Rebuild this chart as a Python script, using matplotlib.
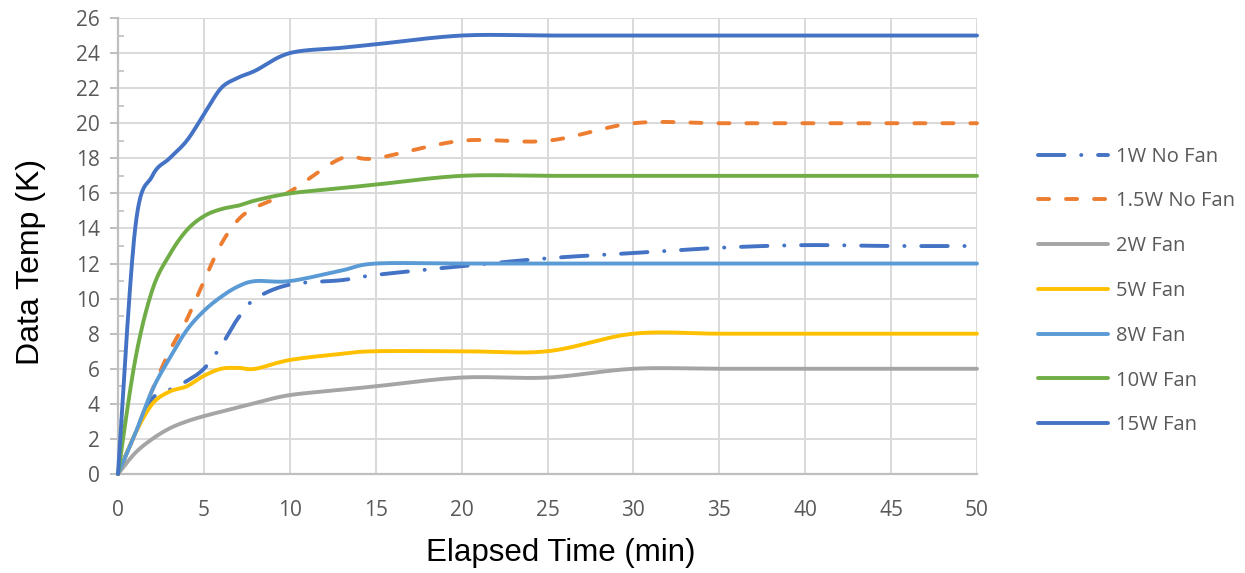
import matplotlib
matplotlib.use("Agg")
import matplotlib.pyplot as plt
import numpy as np
from matplotlib import ticker

# Sample times (min) shared by all series
TIMES = [0, 1, 2, 3, 4, 5, 6, 7, 8, 10, 13, 15, 20, 25, 30, 35, 40, 45, 50]

# Data temperatures (K)
W1_NO_FAN   = [0, 2.3, 4.3, 4.8, 5.3, 6.0, 7.3, 8.9, 10.0, 10.8, 11.05, 11.35, 11.85, 12.3, 12.6, 12.9, 13.05, 13.0, 13.0]
W1_5_NO_FAN = [0, 2.3, 4.8, 7.0, 8.8, 11.0, 13.1, 14.5, 15.2, 16.1, 18.0, 18.0, 19.0, 19.0, 20.0, 20.0, 20.0, 20.0, 20.0]
W2_FAN      = [0, 1.2, 2.0, 2.6, 3.0, 3.3, 3.55, 3.8, 4.05, 4.5, 4.8, 5.0, 5.5, 5.5, 6.0, 6.0, 6.0, 6.0, 6.0]
W5_FAN      = [0, 2.3, 4.0, 4.7, 5.0, 5.6, 6.0, 6.05, 6.0, 6.5, 6.85, 7.0, 7.0, 7.0, 8.0, 8.0, 8.0, 8.0, 8.0]
W8_FAN      = [0, 2.3, 4.8, 6.6, 8.2, 9.3, 10.1, 10.7, 11.0, 11.0, 11.6, 12.0, 12.0, 12.0, 12.0, 12.0, 12.0, 12.0, 12.0]
W10_FAN     = [0, 6.5, 10.5, 12.5, 13.9, 14.7, 15.1, 15.3, 15.6, 16.0, 16.3, 16.5, 17.0, 17.0, 17.0, 17.0, 17.0, 17.0, 17.0]
W15_FAN     = [0, 14.0, 17.0, 18.0, 19.0, 20.5, 22.0, 22.6, 23.0, 24.0, 24.3, 24.5, 25.0, 25.0, 25.0, 25.0, 25.0, 25.0, 25.0]

SERIES_LABELS = ["1W No Fan", "1.5W No Fan", "2W Fan", "5W Fan", "8W Fan", "10W Fan", "15W Fan"]
SERIES_VALUES = [W1_NO_FAN, W1_5_NO_FAN, W2_FAN, W5_FAN, W8_FAN, W10_FAN, W15_FAN]
SERIES_COLOURS = ["#4472C4", "#ED7D31", "#A5A5A5", "#FFC000", "#5B9BD5", "#70AD47", "#4472C4"]
SERIES_DASHES = [(0, (6.8, 4.3, 0.05, 4.3)), (0, (2.85, 4.35)), None, None, None, None, None]

LINE_WIDTH = 2.8
TICK_GREY = "#595959"
TICK_FONT = 15

def smooth(xs, ys, steps=30):
  # Excel-style smoothed line: cubic Bezier segments through every point
  x = np.asarray(xs, float)
  y = np.asarray(ys, float)
  px = np.concatenate([[x[0]], x, [x[-1]]])
  py = np.concatenate([[y[0]], y, [y[-1]]])
  t = np.linspace(0, 1, steps)[1:]
  out_x = [x[0]]
  out_y = [y[0]]
  for i in range(len(x) - 1):
    p0 = np.array([px[i], py[i]])
    p1 = np.array([px[i + 1], py[i + 1]])
    p2 = np.array([px[i + 2], py[i + 2]])
    p3 = np.array([px[i + 3], py[i + 3]])
    c1 = p1 + (p2 - p0) / 6.0
    c2 = p2 - (p3 - p1) / 6.0
    a = (1 - t) ** 3
    b = 3 * (1 - t) ** 2 * t
    c = 3 * (1 - t) * t ** 2
    d = t ** 3
    out_x.extend(a * p1[0] + b * c1[0] + c * c2[0] + d * p2[0])
    out_y.extend(a * p1[1] + b * c1[1] + c * c2[1] + d * p2[1])
  return np.array(out_x), np.array(out_y)

fig = plt.figure(figsize=(12.45, 5.73), dpi=100)
ax = fig.add_axes([118 / 1245, 1 - 474 / 573, (977 - 118) / 1245, (474 - 18) / 573])

for label, values, colour, dashes in zip(SERIES_LABELS, SERIES_VALUES, SERIES_COLOURS, SERIES_DASHES):
  sx, sy = smooth(TIMES, values)
  line, = ax.plot(sx, sy, color=colour, lw=LINE_WIDTH, label=label,
                  solid_capstyle="round", dash_capstyle="round", clip_on=False, zorder=3)
  if dashes is not None:
    line.set_linestyle(dashes)

ax.set_xlim(0, 50)
ax.set_ylim(0, 26)
ax.xaxis.set_major_locator(ticker.MultipleLocator(5))
ax.yaxis.set_major_locator(ticker.MultipleLocator(2))
ax.yaxis.set_minor_locator(ticker.MultipleLocator(1))

ax.grid(True, which="major", color="#D9D9D9", lw=1.4, zorder=0)
ax.set_axisbelow(True)
for side in ("top", "right"):
  ax.spines[side].set_visible(False)
for side in ("left", "bottom"):
  ax.spines[side].set_color("#BFBFBF")
  ax.spines[side].set_linewidth(1.6)

ax.tick_params(axis="x", which="major", length=0, pad=19, labelsize=TICK_FONT, labelcolor=TICK_GREY)
ax.tick_params(axis="y", which="major", direction="out", length=6, width=1.4, color="#BFBFBF",
               pad=7, labelsize=TICK_FONT, labelcolor=TICK_GREY)
ax.tick_params(axis="y", which="minor", direction="in", length=4, width=1.2, color="#BFBFBF")
for lbl in ax.get_xticklabels() + ax.get_yticklabels():
  lbl.set_fontfamily("Open Sans")

# Axis titles placed where the reference has them
fig.text(561 / 1245, 1 - 553 / 573, "Elapsed Time (min)", fontsize=22.5, family="Liberation Sans",
         ha="center", va="center")
fig.text(31 / 1245, 1 - 262 / 573, "Data Temp (K)", fontsize=23, family="Liberation Sans",
         ha="center", va="center", rotation=90)

fig.legend(loc="center left", bbox_to_anchor=(1030 / 1245, 1 - 291 / 573), frameon=False,
           prop={"family": "Open Sans", "size": TICK_FONT - 0.5}, labelcolor=TICK_GREY,
           handlelength=3.48, handletextpad=0.4, labelspacing=1.23, borderaxespad=0)

plt.savefig("out.png", dpi=100)
